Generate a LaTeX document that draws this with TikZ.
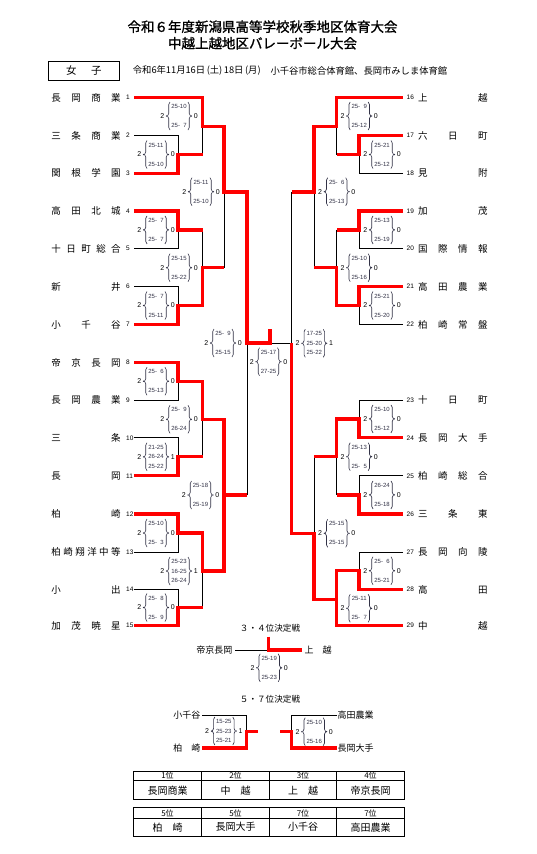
\documentclass[tikz,border=0pt]{standalone}
\usepackage{fontspec}
\setmainfont{Liberation Sans}
\newfontfamily\jp{Noto Sans CJK JP}
\newfontfamily\jpb[FakeBold=1.2]{Noto Sans CJK JP}
\usetikzlibrary{decorations.pathreplacing}
\definecolor{redl}{RGB}{255,0,0}
\definecolor{scol}{RGB}{50,50,70}
\newcommand{\ph}{\phantom{0}}
\newcommand{\scoreII}[7]{%
 \node[bnum] (#1l) at (#2-16.7,#3) {#4};
 \node[snum] (#1a) at (#2,#3-9.5) {#5};
 \node[snum] (#1b) at (#2,#3+9.5) {#6};
 \node[bnum] (#1r) at (#2+16.7,#3) {#7};
 \draw[brc] (#2-9,#3+14) -- (#2-9,#3-14);
 \draw[brc] (#2+9,#3-14) -- (#2+9,#3+14);
 \fill[scol] (#2-12.3,#3) circle[radius=0.75pt];
 \fill[scol] (#2+12.3,#3) circle[radius=0.75pt];}
\newcommand{\scoreIII}[8]{%
 \node[bnum] (#1l) at (#2-16.7,#3) {#4};
 \node[snum] (#1a) at (#2,#3-9.5) {#5};
 \node[snum] (#1b) at (#2,#3) {#6};
 \node[snum] (#1c) at (#2,#3+9.5) {#7};
 \node[bnum] (#1r) at (#2+16.7,#3) {#8};
 \draw[brc] (#2-9,#3+14) -- (#2-9,#3-14);
 \draw[brc] (#2+9,#3-14) -- (#2+9,#3+14);
 \fill[scol] (#2-12.3,#3) circle[radius=0.75pt];
 \fill[scol] (#2+12.3,#3) circle[radius=0.75pt];}
\newcommand{\lteam}[4]{\node[tn] (t#1) at (51.2,#2) {\makebox[69.3pt]{#3}};
 \node[sn] (n#1) at (126,#2) {#4};}
\newcommand{\rteam}[4]{\node[tn] (t#1) at (417.9,#2) {\makebox[69.5pt]{#3}};
 \node[sn] (n#1) at (406.5,#2) {#4};}
\begin{document}
\begin{tikzpicture}[x=1pt,y=-1pt,
 rl/.style={draw=redl,line width=3.3pt},
 bl/.style={draw=black,line width=0.9pt},
 tn/.style={anchor=west,inner sep=0pt,font=\jp\fontsize{9.5}{10}\selectfont},
 sn/.style={anchor=west,inner sep=0pt,font=\fontsize{6.5}{7}\selectfont},
 snum/.style={inner sep=0pt,text=scol,font=\fontsize{6}{6}\selectfont},
 bnum/.style={inner sep=0pt,font=\fontsize{7}{7}\selectfont},
 brc/.style={draw=scol,line width=0.6pt,decorate,decoration={brace,amplitude=2.5pt}},
 lbl/.style={inner sep=0pt,font=\jp\fontsize{9}{10}\selectfont},
 tbl/.style={draw=black,line width=0.9pt},
 th/.style={inner sep=0pt,font=\jp\fontsize{8}{9}\selectfont},
 tv/.style={inner sep=0pt,font=\jp\fontsize{10}{11}\selectfont}]
\fill[white] (0,0) rectangle (537,854);
\useasboundingbox (0,0) rectangle (537,854);
% titles
\node[inner sep=0pt,font=\jpb\fontsize{13.5}{14}\selectfont] (title1) at (262.5,26.7) {令和６年度新潟県高等学校秋季地区体育大会};
\node[inner sep=0pt,font=\jpb\fontsize{13.5}{14}\selectfont] (title2) at (262.5,43.3) {中越上越地区バレーボール大会};
\draw[line width=0.9pt] (48.3,61) rectangle (119,80.3);
\node[inner sep=0pt,font=\jp\fontsize{10.5}{11}\selectfont] (jo) at (71.3,70.7) {女};
\node[inner sep=0pt,font=\jp\fontsize{10.5}{11}\selectfont] (shi) at (96.3,70.7) {子};
\node[anchor=west,inner sep=0pt,font=\jp\fontsize{9.3}{10}\selectfont] (date) at (132.7,70.7) {令和6年11月16日\,(土)\,18日\,(月)};
\node[anchor=west,inner sep=0pt,font=\jp\fontsize{9.3}{10}\selectfont] (venue) at (270.3,70.7) {小千谷市総合体育館、長岡市みしま体育館};
% teams left
\lteam{1}{97.7}{長\hfill 岡\hfill 商\hfill 業}{1}
\lteam{2}{135.7}{三\hfill 条\hfill 商\hfill 業}{2}
\lteam{3}{173.3}{関\hfill 根\hfill 学\hfill 園}{3}
\lteam{4}{211}{高\hfill 田\hfill 北\hfill 城}{4}
\lteam{5}{248.7}{十\hfill 日\hfill 町\hfill 総\hfill 合}{5}
\lteam{6}{286.5}{新\hfill 井}{6}
\lteam{7}{324.5}{小\hfill 千\hfill 谷}{7}
\lteam{8}{362.5}{帝\hfill 京\hfill 長\hfill 岡}{8}
\lteam{9}{400}{長\hfill 岡\hfill 農\hfill 業}{9}
\lteam{10}{437.8}{三\hfill 条}{10}
\lteam{11}{475.8}{長\hfill 岡}{11}
\lteam{12}{514}{柏\hfill 崎}{12}
\lteam{13}{552}{柏\hfill 崎\hfill 翔\hfill 洋\hfill 中\hfill 等}{13}
\lteam{14}{589.5}{小\hfill 出}{14}
\lteam{15}{625.5}{加\hfill 茂\hfill 暁\hfill 星}{15}
% teams right
\rteam{16}{97.7}{上\hfill 越}{16}
\rteam{17}{135.7}{六\hfill 日\hfill 町}{17}
\rteam{18}{173.3}{見\hfill 附}{18}
\rteam{19}{211}{加\hfill 茂}{19}
\rteam{20}{248.7}{国\hfill 際\hfill 情\hfill 報}{20}
\rteam{21}{286.5}{高\hfill 田\hfill 農\hfill 業}{21}
\rteam{22}{324.5}{柏\hfill 崎\hfill 常\hfill 盤}{22}
\rteam{23}{400}{十\hfill 日\hfill 町}{23}
\rteam{24}{437.8}{長\hfill 岡\hfill 大\hfill 手}{24}
\rteam{25}{475.8}{柏\hfill 崎\hfill 総\hfill 合}{25}
\rteam{26}{514}{三\hfill 条\hfill 東}{26}
\rteam{27}{552}{長\hfill 岡\hfill 向\hfill 陵}{27}
\rteam{28}{589.5}{高\hfill 田}{28}
\rteam{29}{625.5}{中\hfill 越}{29}
% left black
\draw[bl] (134,135.7) -- (178,135.7) -- (178,154.5);
\draw[bl] (202.5,154.5) -- (202.5,126.7);
\draw[bl] (134,248.7) -- (178,248.7) -- (178,229.9);
\draw[bl] (202.5,229.9) -- (202.5,267.7);
\draw[bl] (134,286.5) -- (178,286.5) -- (178,305.5);
\draw[bl] (224,267.7) -- (224,192);
\draw[bl] (134,400) -- (178,400) -- (178,381.25);
\draw[bl] (134,437.8) -- (178,437.8) -- (178,456.8);
\draw[bl] (202.5,456.8) -- (202.5,419.3);
\draw[bl] (134,552) -- (178,552) -- (178,533);
\draw[bl] (134,589.5) -- (178,589.5) -- (178,607.5);
\draw[bl] (202.5,607.5) -- (202.5,571);
\draw[bl] (247,495) -- (247,343);
\draw[bl] (270,343) -- (291.7,343);
% right black
\draw[bl] (403,173.3) -- (359,173.3) -- (359,154.5);
\draw[bl] (336.7,154.5) -- (336.7,126.7);
\draw[bl] (403,248.7) -- (359,248.7) -- (359,229.9);
\draw[bl] (336.7,229.9) -- (336.7,267.7);
\draw[bl] (403,324.5) -- (359,324.5) -- (359,305.5);
\draw[bl] (314,267.7) -- (314,192);
\draw[bl] (291.7,192) -- (291.7,343);
\draw[bl] (403,400) -- (359,400) -- (359,418.9);
\draw[bl] (403,475.8) -- (359,475.8) -- (359,494.9);
\draw[bl] (336.7,494.9) -- (336.7,456.7);
\draw[bl] (403,552) -- (359,552) -- (359,570.75);
\draw[bl] (314,456.7) -- (314,533.3);
% left red
\draw[rl] (134,97.7) -- (202.5,97.7) -- (202.5,126.7) -- (224,126.7) -- (224,192) -- (247,192) -- (247,343) -- (270,343) -- (270,329);
\draw[rl] (134,173.3) -- (178,173.3) -- (178,154.5) -- (202.5,154.5);
\draw[rl] (134,211) -- (178,211) -- (178,229.9) -- (202.5,229.9);
\draw[rl] (134,324.5) -- (178,324.5) -- (178,305.5) -- (202.5,305.5) -- (202.5,267.7) -- (224,267.7);
\draw[rl] (134,362.5) -- (178,362.5) -- (178,381.25) -- (202.5,381.25) -- (202.5,419.3) -- (224,419.3) -- (224,495) -- (247,495);
\draw[rl] (134,475.8) -- (178,475.8) -- (178,456.8) -- (202.5,456.8);
\draw[rl] (134,514) -- (178,514) -- (178,533) -- (202.5,533) -- (202.5,571) -- (224,571) -- (224,495);
\draw[rl] (134,625.5) -- (178,625.5) -- (178,607.5) -- (202.5,607.5);
% right red
\draw[rl] (403,97.7) -- (336.7,97.7) -- (336.7,126.7) -- (314,126.7) -- (314,192) -- (291.7,192);
\draw[rl] (403,135.7) -- (359,135.7) -- (359,154.5) -- (336.7,154.5);
\draw[rl] (403,211) -- (359,211) -- (359,229.9) -- (336.7,229.9);
\draw[rl] (403,286.5) -- (359,286.5) -- (359,305.5) -- (336.7,305.5) -- (336.7,267.7) -- (314,267.7);
\draw[rl] (403,437.8) -- (359,437.8) -- (359,418.9) -- (336.7,418.9) -- (336.7,456.7) -- (314,456.7);
\draw[rl] (403,514) -- (359,514) -- (359,494.9) -- (336.7,494.9);
\draw[rl] (403,589.5) -- (359,589.5) -- (359,570.75) -- (336.7,570.75) -- (336.7,599.3);
\draw[rl] (403,625.5) -- (336.7,625.5) -- (336.7,599.3) -- (314,599.3) -- (314,533.3) -- (291.7,533.3) -- (291.7,343);
% scores left
\scoreII{a23}{156}{154.5}{2}{25-11}{25-10}{0}
\scoreII{a45}{156}{229.9}{2}{25-\ph7}{25-\ph7}{0}
\scoreII{a67}{156}{305.5}{2}{25-\ph7}{25-11}{0}
\scoreII{a89}{156}{381.2}{2}{25-\ph6}{25-13}{0}
\scoreIII{a1011}{156}{456.8}{2}{21-25}{26-24}{25-22}{1}
\scoreII{a1213}{156}{533}{2}{25-10}{25-\ph3}{0}
\scoreII{a1415}{156}{607.5}{2}{25-\ph8}{25-\ph9}{0}
\scoreII{b13}{179}{116}{2}{25-10}{25-\ph7}{0}
\scoreII{b47}{179}{267.7}{2}{25-15}{25-22}{0}
\scoreII{b811}{179}{419.3}{2}{25-\ph9}{26-24}{0}
\scoreIII{b1215}{179}{571}{2}{25-23}{16-25}{26-24}{1}
\scoreII{c17}{201}{191.7}{2}{25-11}{25-10}{0}
\scoreII{c815}{200.5}{495}{2}{25-18}{25-19}{0}
\scoreII{sl}{223}{343}{2}{25-\ph9}{25-15}{0}
\scoreII{fin}{268.5}{361.7}{2}{25-17}{27-25}{0}
\scoreIII{sr}{314.3}{343.3}{2}{17-25}{25-20}{25-22}{1}
% scores right
\scoreII{d1622}{336.7}{191.7}{2}{25-\ph6}{25-13}{0}
\scoreII{d2329}{336.7}{533.3}{2}{25-15}{25-15}{0}
\scoreII{e1618}{359.2}{116}{2}{25-\ph9}{25-12}{0}
\scoreII{e1922}{359.2}{267.7}{2}{25-10}{25-16}{0}
\scoreII{e2326}{359.2}{456.7}{2}{25-13}{25-\ph5}{0}
\scoreII{e2729}{359.2}{608.3}{2}{25-11}{25-\ph7}{0}
\scoreII{f1718}{382}{154.5}{2}{25-21}{25-12}{0}
\scoreII{f1920}{382}{229.9}{2}{25-13}{25-19}{0}
\scoreII{f2122}{382}{305.5}{2}{25-21}{25-20}{0}
\scoreII{f2324}{382}{418.9}{2}{25-10}{25-12}{0}
\scoreII{f2526}{382}{494.9}{2}{26-24}{25-18}{0}
\scoreII{f2728}{382}{570.75}{2}{25-\ph6}{25-21}{0}
% 3rd place
\node[inner sep=0pt,font=\jp\fontsize{8.6}{9}\selectfont] (p34) at (270,628.3) {３・４位決定戦};
\node[lbl,anchor=east] (p34a) at (232.5,650) {帝京長岡};
\node[lbl,anchor=west] (p34b) at (304.5,650) {上　越};
\draw[bl] (p34a.east) ++(2.5,0) -- (268.3,650);
\draw[rl] (268.3,636.5) -- (268.3,650) -- (302,650);
\scoreII{g34}{269.2}{667.8}{2}{25-19}{25-23}{0}
% 5-7 place
\node[inner sep=0pt,font=\jp\fontsize{8.6}{9}\selectfont] (p57) at (270,699) {５・７位決定戦};
\node[lbl,anchor=east] (p57a) at (200.5,715) {小千谷};
\node[lbl,anchor=east] (p57b) at (200.5,748) {柏　崎};
\node[lbl,anchor=west] (p57c) at (337.5,715) {高田農業};
\node[lbl,anchor=west] (p57d) at (337.5,748) {長岡大手};
\draw[bl] (202,715) -- (246.7,715) -- (246.7,731.7);
\draw[rl] (202,748) -- (246.7,748) -- (246.7,731.7) -- (258,731.7);
\draw[bl] (337,715) -- (291.7,715) -- (291.7,731.7);
\draw[rl] (280,731.7) -- (291.7,731.7) -- (291.7,748) -- (337,748);
\scoreIII{g57a}{223.8}{731}{2}{15-25}{25-23}{25-21}{1}
\scoreII{g57b}{314.2}{731.7}{2}{25-10}{25-16}{0}
% tables
\draw[tbl] (133.3,771) rectangle (404.3,799.5);
\draw[tbl] (133.3,780.7) -- (404.3,780.7);
\draw[tbl] (133.3,807.7) rectangle (404.3,836);
\draw[tbl] (133.3,818.3) -- (404.3,818.3);
\foreach \xx in {201.7,269.3,336.7} {
 \draw[tbl] (\xx,771) -- (\xx,799.5);
 \draw[tbl] (\xx,807.7) -- (\xx,836);
}
\node[th] (h1) at (167.5,775.9) {1位};
\node[th] (h2) at (235.5,775.9) {2位};
\node[th] (h3) at (303,775.9) {3位};
\node[th] (h4) at (370.5,775.9) {4位};
\node[tv] (v1) at (167.5,790.2) {長岡商業};
\node[tv] (v2) at (235.5,790.2) {中　越};
\node[tv] (v3) at (303,790.2) {上　越};
\node[tv] (v4) at (370.5,790.2) {帝京長岡};
\node[th] (h5) at (167.5,813) {5位};
\node[th] (h6) at (235.5,813) {5位};
\node[th] (h7) at (303,813) {7位};
\node[th] (h8) at (370.5,813) {7位};
\node[tv] (v5) at (167.5,827.2) {柏　崎};
\node[tv] (v6) at (235.5,827.2) {長岡大手};
\node[tv] (v7) at (303,827.2) {小千谷};
\node[tv] (v8) at (370.5,827.2) {高田農業};
\end{tikzpicture}
\end{document}
